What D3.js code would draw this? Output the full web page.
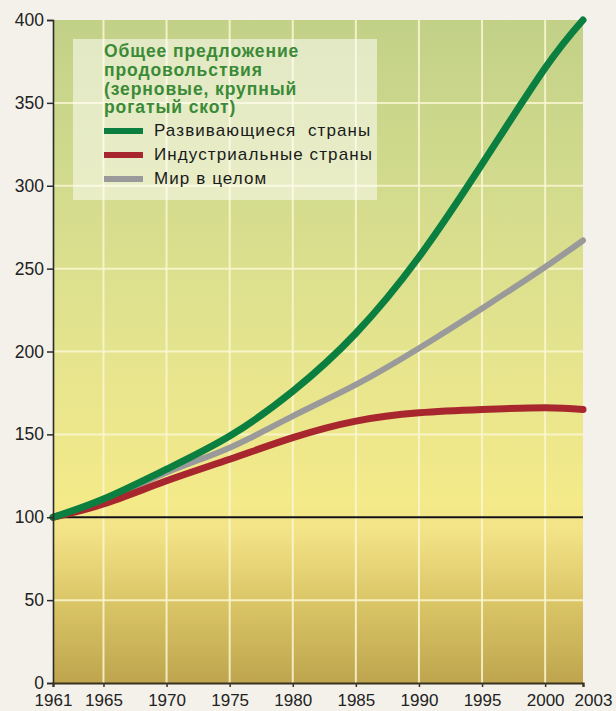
<!DOCTYPE html>
<html><head><meta charset="utf-8">
<script src="https://cdn.jsdelivr.net/npm/d3@7"></script>
<style>
html,body{margin:0;padding:0;background:#f4f1ea;}
svg{display:block;}
text{font-family:"Liberation Sans",Arial,sans-serif;}
</style></head>
<body>
<svg id="c" width="616" height="711"></svg>
<script>
const years = [1961, 1965, 1970, 1975, 1980, 1985, 1990, 1995, 2000, 2003];
const developing = [100, 111, 129, 149, 176, 211, 257, 313, 371, 400];
const industrial = [100, 108, 122, 135, 148, 158, 163, 165, 166, 165];
const world = [100, 110, 127, 142, 161, 180, 202, 226, 251, 267];
const xTicks = [1961, 1965, 1970, 1975, 1980, 1985, 1990, 1995, 2000, 2003];
const yTicks = [0, 50, 100, 150, 200, 250, 300, 350, 400];
const titleLines = ["Общее предложение", "продовольствия", "(зерновые, крупный", "рогатый скот)"];
const seriesNames = ["Развивающиеся  страны", "Индустриальные страны", "Мир в целом"];

const svg = d3.select("#c");
const L = 53, R = 583, T = 20, B = 683;
const x = d3.scaleLinear().domain([1961, 2003]).range([L, R]);
const y = d3.scaleLinear().domain([0, 400]).range([B, T]);

// gradient background
const defs = svg.append("defs");
const g = defs.append("linearGradient").attr("id", "bg").attr("x1", 0).attr("y1", 0).attr("x2", 0).attr("y2", 1);
[[0, "#c2d188"], [0.25, "#d2db8d"], [0.5, "#e5e48e"], [0.73, "#f4ea89"], [0.77, "#f3e387"], [0.88, "#dac566"], [1, "#bea54e"]]
  .forEach(([o, c]) => g.append("stop").attr("offset", o).attr("stop-color", c));
svg.append("rect").attr("x", L).attr("y", T).attr("width", R - L).attr("height", B - T).attr("fill", "url(#bg)");

// grid
svg.append("g").selectAll("line").data(yTicks.filter(d => d > 0 && d < 400)).join("line")
  .attr("x1", L).attr("x2", R).attr("y1", d => y(d)).attr("y2", d => y(d))
  .attr("stroke", "#fbf7d2").attr("stroke-width", 2).attr("opacity", 0.85);
svg.append("g").selectAll("line").data(xTicks.filter(d => d > 1961 && d < 2003)).join("line")
  .attr("y1", T).attr("y2", B).attr("x1", d => x(d)).attr("x2", d => x(d))
  .attr("stroke", "#fbf7d2").attr("stroke-width", 2).attr("opacity", 0.85);

// legend box
svg.append("rect").attr("x", 73).attr("y", 39).attr("width", 304).attr("height", 161)
  .attr("fill", "#ffffff").attr("opacity", 0.5);

// baseline 100
svg.append("line").attr("x1", L).attr("x2", R).attr("y1", y(100)).attr("y2", y(100))
  .attr("stroke", "#111").attr("stroke-width", 2);

// lines
const line = vals => d3.line().x((d, i) => x(years[i])).y(d => y(d)).curve(d3.curveNatural)(vals);
const series = [
  {vals: world, color: "#9a9a9a", w: 6},
  {vals: industrial, color: "#a8272e", w: 7},
  {vals: developing, color: "#0b7f40", w: 7}
];
svg.append("g").selectAll("path").data(series).join("path")
  .attr("d", d => line(d.vals)).attr("fill", "none")
  .attr("stroke", d => d.color).attr("stroke-width", d => d.w)
  .attr("stroke-linecap", "round").attr("stroke-linejoin", "round");

// axes
const ya = svg.append("g").attr("transform", `translate(${L},0)`)
  .call(d3.axisLeft(y).tickValues(yTicks).tickSize(6).tickPadding(3));
ya.select(".domain").attr("stroke", "#2a2a2a").attr("stroke-width", 1.6);
ya.selectAll(".tick line").attr("stroke", "#2a2a2a").attr("stroke-width", 1.5);
ya.selectAll("text").attr("font-size", 17.5).attr("fill", "#222").attr("font-family", "Liberation Sans, Arial, sans-serif");

const xa = svg.append("g").attr("transform", `translate(0,${B})`)
  .call(d3.axisBottom(x).tickValues(xTicks).tickFormat(d3.format("d")).tickSize(4).tickPadding(7));
xa.select(".domain").attr("stroke", "#3a3220").attr("stroke-width", 2.2);
xa.selectAll(".tick line").attr("stroke", "#3a3220").attr("stroke-width", 1.5);
xa.selectAll("text").attr("font-size", 17).attr("fill", "#222").attr("font-family", "Liberation Sans, Arial, sans-serif")
  .attr("dx", d => d === 2003 ? 10 : 0);

// legend title
svg.append("g").selectAll("text").data(titleLines).join("text")
  .attr("x", 104).attr("y", (d, i) => 57 + i * 18.8)
  .attr("font-size", 17.5).attr("font-weight", "bold").attr("fill", "#3a8a36")
  .attr("letter-spacing", 0.9)
  .text(d => d);

// legend items
const legendColors = ["#0b7f40", "#a8272e", "#9a9a9a"];
const li = svg.append("g").selectAll("g").data(seriesNames).join("g")
  .attr("transform", (d, i) => `translate(0,${131 + i * 24})`);
li.append("line").attr("x1", 104).attr("x2", 143).attr("y1", 0).attr("y2", 0)
  .attr("stroke", (d, i) => legendColors[i]).attr("stroke-width", 6);
li.append("text").attr("x", 154).attr("y", 5).attr("font-size", 17).attr("fill", "#1a1a1a")
  .attr("letter-spacing", 1.1)
  .attr("xml:space", "preserve").text(d => d);
</script>
</body></html>
